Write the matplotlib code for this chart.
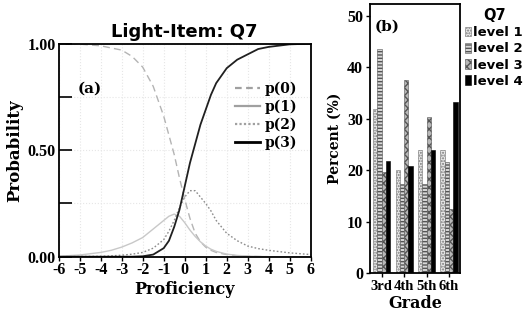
import matplotlib
matplotlib.use("Agg")
import matplotlib.pyplot as plt
import numpy as np

# ---- data: panel (a) category response curves ----
theta = [-6, -5, -4, -3.5, -3, -2.5, -2, -1.5, -1, -0.75, -0.5, -0.25, 0,
         0.25, 0.5, 0.75, 1, 1.25, 1.5, 2, 2.5, 3, 3.5, 4, 5, 6]
p0 = [1.0, 0.998, 0.99, 0.98, 0.97, 0.94, 0.89, 0.80, 0.66, 0.57, 0.48, 0.37, 0.27,
      0.18, 0.11, 0.07, 0.045, 0.03, 0.02, 0.01, 0.004, 0.002, 0.001, 0, 0, 0]
p1 = [0.002, 0.008, 0.02, 0.03, 0.045, 0.065, 0.09, 0.13, 0.17, 0.19, 0.20, 0.19, 0.16,
      0.125, 0.095, 0.07, 0.05, 0.035, 0.025, 0.012, 0.006, 0.003, 0.001, 0, 0, 0]
p2 = [0, 0.001, 0.002, 0.004, 0.007, 0.012, 0.02, 0.04, 0.08, 0.12, 0.17, 0.23, 0.28,
      0.31, 0.31, 0.28, 0.25, 0.215, 0.17, 0.11, 0.075, 0.05, 0.038, 0.03, 0.018, 0.01]
p3 = [0, 0, 0, 0, 0, 0, 0.002, 0.01, 0.04, 0.075, 0.14, 0.22, 0.33,
      0.44, 0.53, 0.62, 0.69, 0.76, 0.815, 0.885, 0.925, 0.95, 0.975, 0.985, 0.997, 1.0]
curve_labels = ["p(0)", "p(1)", "p(2)", "p(3)"]

# ---- data: panel (b) percent by grade ----
grades = ["3rd", "4th", "5th", "6th"]
level_names = ["level 1", "level 2", "level 3", "level 4"]
level1 = [32.0, 20.0, 24.0, 24.0]
level2 = [43.5, 17.4, 17.4, 21.7]
level3 = [19.7, 37.5, 30.4, 12.5]
level4 = [21.9, 20.8, 23.9, 33.3]

W, H = 526, 322
fig = plt.figure(figsize=(W / 100, H / 100), dpi=100)

serif = "DejaVu Serif"
tickserif = "Liberation Serif"
sans = "DejaVu Sans"

# ---------------- panel (a) ----------------
ax = fig.add_axes([58.7 / W, 1 - 256.7 / H, 252 / W, 213 / H])
ax.plot(theta, p0, color="#b4b4b4", lw=1.0, ls=(0, (5, 3)), label=curve_labels[0])
ax.plot(theta, p1, color="#c8c8c8", lw=1.0, ls="-", label=curve_labels[1])
ax.plot(theta, p2, color="#8c8c8c", lw=1.0, ls=(0, (1.2, 1.5)), label=curve_labels[2])
ax.plot(theta, p3, color="#202020", lw=1.3, ls="-", label=curve_labels[3])
ax.set_xlim(-6, 6)
ax.set_ylim(0, 1)
ax.set_xticks(np.arange(-6, 7, 1))
ax.set_xticklabels([str(v) for v in range(-6, 7)], fontfamily=tickserif,
                   fontweight="bold", fontsize=11.5)
ax.set_yticks([0, 0.25, 0.5, 0.75, 1.0])
ax.set_yticklabels(["0.00", "", "0.50", "", "1.00"], fontfamily=tickserif,
                   fontweight="bold", fontsize=11.5)
ax.tick_params(axis="y", direction="in", length=9, width=1.2, pad=2)
ax.tick_params(axis="x", direction="out", length=3, width=1.0, pad=1)
ax.grid(True, color="#e6e6e6", ls=":", lw=0.8)
for s in ax.spines.values():
    s.set_linewidth(1.3)
ax.set_xlabel("Proficiency", fontfamily=serif, fontweight="bold", fontsize=11.5, labelpad=2)
ax.set_ylabel("Probability", fontfamily=serif, fontweight="bold", fontsize=12, labelpad=3)
ax.set_title("Light-Item: Q7", fontfamily=sans, fontweight="bold", fontsize=13, pad=5)
ax.text(0.075, 0.79, "(a)", transform=ax.transAxes, fontfamily=serif,
        fontweight="bold", fontsize=11, va="center", ha="left")
leg_handles = [plt.Line2D([], [], color="#a0a0a0", lw=1.6, ls=(0, (3, 2))),
               plt.Line2D([], [], color="#a0a0a0", lw=1.6, ls="-"),
               plt.Line2D([], [], color="#a0a0a0", lw=1.6, ls=(0, (1, 1))),
               plt.Line2D([], [], color="#000000", lw=2.0, ls="-")]
ax.legend(leg_handles, curve_labels, loc="upper left", bbox_to_anchor=(0.65, 0.88),
          frameon=False, handlelength=1.8, handletextpad=0.35, labelspacing=0.25,
          prop={"family": serif, "weight": "bold", "size": 10})

# ---------------- panel (b) ----------------
bx = fig.add_axes([370 / W, 1 - 273.3 / H, 90 / W, 269.6 / H])
xpos = np.arange(len(grades))
bw = 0.19
series = [level1, level2, level3, level4]
faces = ["#e8e8e8", "#d8d8d8", "#b8b8b8", "#000000"]
hatches = ["......", "-----", "xxxx", None]
edges = ["#777777", "#555555", "#555555", "#000000"]
for i, (vals, fc, h, ec) in enumerate(zip(series, faces, hatches, edges)):
    bx.bar(xpos + (i - 1.5) * bw, vals, width=bw, color=fc, hatch=h,
           edgecolor=ec, linewidth=0.4, label=level_names[i])
bx.set_xlim(-0.52, 3.49)
bx.set_ylim(0, 52.4)
bx.set_xticks(xpos)
bx.set_xticklabels(grades, fontfamily=tickserif, fontweight="bold", fontsize=10.5)
bx.set_yticks([0, 10, 20, 30, 40, 50])
bx.set_yticklabels(["0", "10", "20", "30", "40", "50"], fontfamily=tickserif,
                   fontweight="bold", fontsize=11.5)
bx.tick_params(axis="both", direction="out", length=3, width=1.0, pad=2)
for s in bx.spines.values():
    s.set_linewidth(1.3)
bx.set_xlabel("Grade", fontfamily=serif, fontweight="bold", fontsize=11.5, labelpad=1)
bx.set_ylabel("Percent (%)", fontfamily=serif, fontweight="bold", fontsize=10, labelpad=4)
bx.text(0.055, 0.913, "(b)", transform=bx.transAxes, fontfamily=serif,
        fontweight="bold", fontsize=11, va="center", ha="left")
lg = bx.legend(loc="upper left", bbox_to_anchor=(1.04, 0.99), frameon=False,
               title="Q7", handlelength=0.45, handleheight=0.75, handletextpad=0.2,
               labelspacing=0.25, borderaxespad=0.0, borderpad=0.1,
               prop={"family": sans, "weight": "bold", "size": 9.5})
lg.get_title().set_fontfamily(sans)
lg.get_title().set_fontweight("bold")
lg.get_title().set_fontsize(10.5)

fig.savefig("out.png", dpi=100)
